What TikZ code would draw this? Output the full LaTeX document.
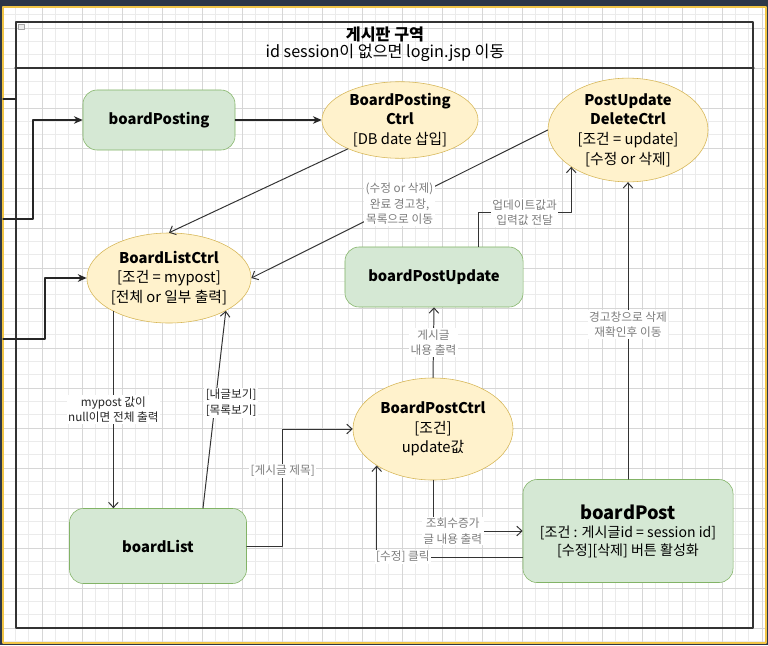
\documentclass[tikz,border=0pt]{standalone}
\usepackage{fontspec}
\setmainfont{Noto Sans CJK KR}
\usetikzlibrary{arrows.meta, positioning, shapes.geometric, calc}
\definecolor{DIOgreen}{HTML}{D5E8D4}
\definecolor{DIOgreenLine}{HTML}{82B366}
\definecolor{DIOyellow}{HTML}{FFF2CC}
\definecolor{DIOyellowLine}{HTML}{D6B656}
\definecolor{FrameNavy}{RGB}{44,54,72}
\definecolor{FrameGold}{RGB}{240,196,70}
\definecolor{LabelGray}{RGB}{125,125,125}

\begin{document}
\begin{tikzpicture}[
    x=0.025cm, y=-0.025cm,
    line cap=round, line join=round,
    font=\fontsize{10.5}{14}\selectfont,
    gridminor/.style={draw=black!8, line width=0.3pt},
    gridmajor/.style={draw=black!16, line width=0.4pt},
    page/.style={
        rounded corners=10pt,
        draw=DIOgreenLine,
        fill=DIOgreen,
        align=center,
        inner sep=2pt,
        font=\bfseries\fontsize{10.5}{14}\selectfont
    },
    ctrl/.style={
        ellipse,
        draw=DIOyellowLine,
        fill=DIOyellow,
        align=center,
        inner sep=0pt
    },
    flow/.style={-{Straight Barb[length=1.3mm, width=2.4mm]}, draw=black!80, line width=0.7pt},
    feed/.style={-{Stealth[length=2.2mm, width=1.9mm]}, draw=black!85, line width=0.8pt},
    line/.style={draw=black!85, line width=0.8pt},
    lbl/.style={font=\fontsize{8.3}{11}\selectfont, text=LabelGray, fill=white, inner sep=1pt, align=center},
    note/.style={lbl, text=black!85}
]

% frame and grid
\fill[FrameNavy] (0,0) rectangle (768,645);
\fill[white] (3,7) rectangle (766,643);
\begin{scope}
\clip (3,7) rectangle (766,643);
\foreach \i in {0,...,57} \draw[gridminor] ({2+\i*40/3},7) -- ({2+\i*40/3},643);
\foreach \i in {0,...,48} \draw[gridminor] (3,{1.33+\i*40/3}) -- (766,{1.33+\i*40/3});
\foreach \gx in {2,42,...,762} \draw[gridmajor] (\gx,7) -- (\gx,643);
\foreach \gy in {28,68,...,628} \draw[gridmajor] (3,\gy) -- (766,\gy);
\end{scope}
\draw[FrameGold, line width=0.8pt] (3,7) rectangle (766,643);

% container
\node[draw=black!80, line width=1.1pt, minimum width=18.425cm, minimum height=15.15cm, inner sep=0pt] (zone) at (384.5,325) {};
\coordinate (headLine) at (0,68);
\draw[draw=black!80, line width=1.1pt] (zone.west |- headLine) -- (zone.east |- headLine);
\node[draw=gray!70, fill=gray!15, minimum width=0.15cm, minimum height=0.12cm, inner sep=0pt] (zoneIcon) at (21,27) {};
\node[font=\bfseries\fontsize{11.5}{14}\selectfont] (zoneTitle) at (385,34) {게시판 구역};
\node[font=\fontsize{11.5}{14}\selectfont] (zoneSub) at (385,53) {id session이 없으면 login.jsp 이동};

% pages
\node[page, minimum width=3.8cm, minimum height=1.5cm] (boardPosting) at (159,120) {boardPosting};
\node[page, minimum width=4.45cm, minimum height=1.5cm] (boardPostUpdate) at (434,277) {boardPostUpdate};
\node[page, minimum width=4.425cm, minimum height=1.875cm] (boardList) at (158,546) {boardList};
\node[page, minimum width=5.25cm, minimum height=2.575cm, font=\fontsize{10}{12.8}\selectfont] (boardPost) at (628,531)
{{\bfseries\fontsize{13}{16}\selectfont boardPost}\\{[조건 : 게시글id = session id]}\\{[수정][삭제] 버튼 활성화}};

% controllers
\node[ctrl, minimum width=3.9cm, minimum height=1.9cm] (BoardPostingCtrl) at (400,120)
{\textbf{BoardPosting}\\\textbf{Ctrl}\\{[DB date 삽입]}};
\node[ctrl, minimum width=4.0cm, minimum height=2.5cm] (PostUpdateDeleteCtrl) at (628,130)
{\textbf{PostUpdate}\\\textbf{DeleteCtrl}\\{[조건 = update]}\\{[수정 or 삭제]}};
\node[ctrl, minimum width=3.8cm, minimum height=2.25cm] (BoardListCtrl) at (169,278)
{\textbf{BoardListCtrl}\\{[조건 = mypost]}\\{[전체 or 일부 출력]}};
\node[ctrl, minimum width=4.0cm, minimum height=2.55cm] (BoardPostCtrl) at (433,429)
{\textbf{BoardPostCtrl}\\{[조건]}\\update값};

% incoming from outside
\coordinate (outStub) at (3,99);
\coordinate (outPosting) at (3,219);
\coordinate (outList) at (3,339);
\draw[line] (outStub) -- (outStub -| zone.west);
\draw[feed] (outPosting) -- ++(30,0) |- (boardPosting.west);
\draw[feed] (outList) -- ++(42,0) |- (BoardListCtrl.west);

\draw[feed] (boardPosting.east) -- (BoardPostingCtrl.west);
\draw[flow] (BoardPostingCtrl.209) -- (BoardListCtrl.north);
\draw[flow] (PostUpdateDeleteCtrl.west) -- (BoardListCtrl.east)
    node[lbl, pos=0.5] {(수정 or 삭제)\\완료 경고창,\\목록으로 이동};

\draw[flow] ($(boardPostUpdate.north)+(44,0)$) -- ++(0,-34) -| (PostUpdateDeleteCtrl.213)
    node[lbl, pos=0.25] {업데이트값과\\입력값 전달};
\draw[flow] (boardPost.north) -- (PostUpdateDeleteCtrl.south)
    node[lbl, pos=0.52] {경고창으로 삭제\\재확인후 이동};

\draw[flow] (BoardListCtrl.211) -- (BoardListCtrl.211 |- boardList.north)
    node[note, pos=0.5] {mypost 값이\\null이면 전체 출력};
\draw[flow] ($(boardList.north)+(45,0)$) -- (BoardListCtrl.330)
    node[note, pos=0.535, xshift=0.4cm] {{[내글보기]}\\{[목록보기]}};

\draw[flow] (boardList.east) -- ++(36,0) |- (BoardPostCtrl.west)
    node[lbl, pos=0.32] {[게시글 제목]};
\draw[flow] (BoardPostCtrl.north) -- (boardPostUpdate.south)
    node[lbl, pos=0.5] {게시글\\내용 출력};
\draw[flow] (BoardPostCtrl.south) |- (boardPost.west)
    node[lbl, pos=0.61] {조회수증가\\글 내용 출력};
\draw[flow] ($(boardPost.west)+(0,26)$) -| (BoardPostCtrl.213)
    node[lbl, pos=0.41] {[수정] 클릭};

\end{tikzpicture}
\end{document}
